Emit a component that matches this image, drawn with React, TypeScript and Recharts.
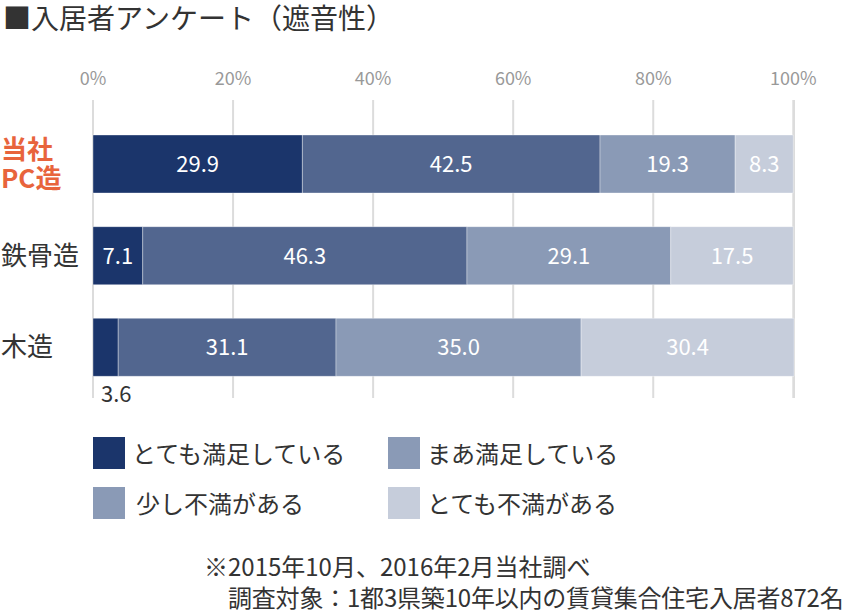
import { Bar, BarChart, CartesianGrid, LabelList, XAxis, YAxis } from "recharts"

const categories = ["当社PC造", "鉄骨造", "木造"]
const verySatisfied = [29.9, 7.1, 3.6]
const fairlySatisfied = [42.5, 46.3, 31.1]
const slightlyDissatisfied = [19.3, 29.1, 35.0]
const veryDissatisfied = [8.3, 17.5, 30.4]
const xTicks = [0, 20, 40, 60, 80, 100]

const seriesNames = ["とても満足している", "まあ満足している", "少し不満がある", "とても不満がある"]
const colors = ["#1b356b", "#52668f", "#8a9ab6", "#c6cddb"]
// the original legend shows these swatch colours
const legendColors = ["#1b356b", "#8a9ab6", "#8a9ab6", "#c6cddb"]

const FONT = '"Noto Sans CJK JP", "Noto Sans", sans-serif'
const LABEL_X = 1

const chartData = categories.map((name, i) => ({
  name,
  s1: verySatisfied[i],
  s2: fairlySatisfied[i],
  s3: slightlyDissatisfied[i],
  s4: veryDissatisfied[i],
}))

const CategoryTick = ({ y, payload }: any) => {
  if (payload.value === "当社PC造") {
    return (
      <text x={LABEL_X} y={y} textAnchor="start" fill="#e8643c" fontSize={26} fontWeight={700} fontFamily={FONT}>
        <tspan x={LABEL_X} dy={-5}>当社</tspan>
        <tspan x={LABEL_X} dy={29}>PC造</tspan>
      </text>
    )
  }
  return (
    <text x={LABEL_X} y={y} dy={9} textAnchor="start" fill="#333" fontSize={26} fontFamily={FONT}>
      {payload.value}
    </text>
  )
}

const InsideLabel = (props: any) => {
  const { x, y, width, height, value } = props
  if (value < 5) {
    return (
      <text x={x + 8} y={y + height + 26} textAnchor="start" fill="#333" fontSize={22} fontFamily={FONT}>
        {value.toFixed(1)}
      </text>
    )
  }
  return (
    <text
      x={x + width / 2}
      y={y + height / 2}
      dy={8}
      textAnchor="middle"
      fill="#fff"
      fontSize={22}
      fontFamily={FONT}
    >
      {value.toFixed(1)}
    </text>
  )
}

export default function App() {
  const keys = ["s1", "s2", "s3", "s4"]
  return (
    <div style={{ position: "relative", width: 845, height: 612, fontFamily: FONT, background: "#fff" }}>
      <style>{"body{margin:0}"}</style>
      <div style={{ position: "absolute", left: 3, top: 0, fontSize: 28, lineHeight: "34px", color: "#333", whiteSpace: "nowrap" }}>
        ■入居者アンケート（遮音性）
      </div>
      <div style={{ position: "absolute", left: 0, top: 0 }}>
        <BarChart
          width={845}
          height={420}
          data={chartData}
          layout="vertical"
          margin={{ top: 60, right: 51, bottom: 22, left: 0 }}
          barSize={58}
        >
          <CartesianGrid horizontal={false} stroke="#dcdcdc" strokeWidth={2} />
          <XAxis
            type="number"
            orientation="top"
            domain={[0, 100]}
            ticks={xTicks}
            tickFormatter={(v) => `${v}%`}
            axisLine={false}
            tickLine={false}
            tickSize={0}
            tickMargin={15}
            height={40}
            tick={{ fill: "#999", fontSize: 18, fontFamily: FONT }}
            interval={0}
          />
          <YAxis
            type="category"
            dataKey="name"
            width={93}
            axisLine={false}
            tickLine={false}
            padding={{ top: 18, bottom: 5 }}
            tick={<CategoryTick />}
          />
          {keys.map((k, i) => (
            <Bar
              key={k}
              dataKey={k}
              stackId="a"
              fill={colors[i]}
              stroke="rgba(255,255,255,0.35)"
              strokeWidth={1}
              isAnimationActive={false}
            >
              <LabelList dataKey={k} content={<InsideLabel />} />
            </Bar>
          ))}
        </BarChart>
      </div>
      {seriesNames.map((n, i) => {
        const col = i % 2
        const row = Math.floor(i / 2)
        return (
          <div
            key={n}
            style={{ position: "absolute", left: col === 0 ? 93 : 388, top: 437 + row * 50, display: "flex", alignItems: "center" }}
          >
            <div style={{ width: 32, height: 32, background: legendColors[i] }} />
            <span style={{ marginLeft: i === 2 ? 11 : 7, fontSize: 24, color: "#333", lineHeight: "32px", whiteSpace: "nowrap" }}>{n}</span>
          </div>
        )
      })}
      <div style={{ position: "absolute", left: 204, top: 550, fontSize: 24, color: "#333", whiteSpace: "nowrap" }}>
        <div style={{ lineHeight: "32px" }}>※2015年10月、2016年2月当社調べ</div>
        <div style={{ paddingLeft: 24, letterSpacing: -0.2, lineHeight: "30px" }}>調査対象：1都3県築10年以内の賃貸集合住宅入居者872名</div>
      </div>
    </div>
  )
}
